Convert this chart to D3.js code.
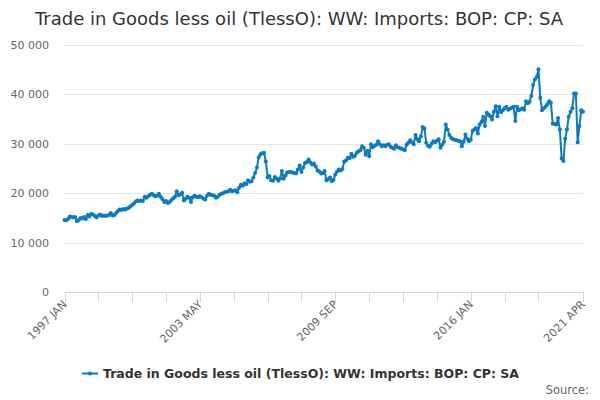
<!DOCTYPE html>
<head>
  <meta charset="utf-8">
  <title>Trade in Goods less oil</title>
  <style>
    body { margin: 0; background: #fff; }
    svg text { font-family: "DejaVu Sans", sans-serif; }
  </style>
</head>
<body>
<svg width="600" height="400"></svg>
<script src="https://d3js.org/d3.v7.min.js"></script>
<script>

var title = "Trade in Goods less oil (TlessO): WW: Imports: BOP: CP: SA";
var seriesName = "Trade in Goods less oil (TlessO): WW: Imports: BOP: CP: SA";

// monthly values, 1997 JAN .. 2021 APR (GBP million)
var values = [
  14600, 14500, 14800, 15300, 15200, 15100, 15200, 14300, 14600, 15000, 14900, 15200, // 1997
  14800, 15600, 15300, 15800, 15700, 15400, 15100, 15500, 15700, 15400, 15500, 15400, // 1998
  15500, 15600, 16000, 15500, 15600, 16000, 16400, 16700, 16600, 16800, 16700, 16900, // 1999
  17000, 17300, 17600, 17900, 18300, 18500, 18400, 18500, 18400, 19300, 19100, 19400, // 2000
  19700, 19900, 19600, 19400, 19500, 19900, 19300, 18800, 18200, 18400, 18000, 18200, // 2001
  18600, 19000, 19300, 20400, 19600, 19800, 20100, 18500, 18900, 19300, 19100, 18200, // 2002
  19200, 19500, 19300, 19200, 19400, 19200, 18900, 18700, 19500, 19900, 19700, 19600, // 2003
  19500, 19100, 19300, 19700, 19900, 20000, 20200, 20300, 20400, 20700, 20400, 20500, // 2004
  20600, 20200, 21100, 21700, 21500, 22000, 21800, 22600, 22300, 22400, 23200, 24100, // 2005
  25200, 27300, 27900, 28100, 28200, 26400, 23200, 23500, 22600, 22500, 23300, 23000, // 2006
  22500, 23000, 24500, 22900, 23600, 24200, 24300, 24300, 24200, 24100, 24000, 24800, // 2007
  25600, 24300, 25200, 26100, 26300, 26800, 26200, 25800, 26000, 25400, 24600, 24400, // 2008
  24000, 24100, 24500, 22600, 22800, 23200, 22400, 22700, 23800, 24400, 24800, 24600, // 2009
  24900, 26400, 26600, 27200, 27100, 28000, 27400, 27600, 28200, 28500, 28700, 29500, // 2010
  29200, 27800, 28600, 27500, 29900, 29300, 29600, 29800, 30500, 29900, 29500, 29700, // 2011
  29500, 29800, 29900, 29400, 29200, 29000, 29700, 29300, 29200, 29000, 28900, 28700, // 2012
  29800, 30200, 30700, 30300, 29900, 31800, 30900, 30500, 31500, 33400, 33100, 30200, // 2013
  29600, 29400, 30000, 30500, 30300, 30600, 30900, 29200, 29800, 30400, 33900, 32900, // 2014
  31800, 31200, 30900, 30800, 30700, 30600, 30500, 29500, 30400, 31900, 31000, 30500, // 2015
  30800, 32600, 32900, 33200, 32100, 33900, 34400, 35500, 33600, 36300, 35900, 35600, // 2016
  34900, 36500, 37600, 35600, 37500, 36400, 36800, 37200, 37500, 36900, 37100, 37300, // 2017
  37500, 34600, 37500, 36800, 37000, 37200, 36900, 38600, 38200, 38500, 39700, 41900, // 2018
  43000, 43500, 45100, 39300, 36800, 37200, 37500, 38000, 38600, 38300, 34100, 34000, // 2019
  33900, 35200, 32900, 27000, 26500, 31000, 32900, 35500, 36500, 37200, 40200, 40200, // 2020
  30300, 33600, 36800, 36500                                                          // 2021
];

var yTicks = [0, 10000, 20000, 30000, 40000, 50000];
var labelIndex = [0, 76, 152, 228, 291];
var labelText = ["1997 JAN", "2003 MAY", "2009 SEP", "2016 JAN", "2021 APR"];
var tickIndex = d3.range(0, 267, 19).concat([291]);

var colour = "#0a7bc0";

var svg = d3.select("svg");

var x = d3.scaleLinear().domain([0, values.length - 1]).range([64.5, 583]);
var y = d3.scaleLinear().domain([0, 50000]).range([292, 45]);

var fmt = function(d) { return d3.format(",")(d).replace(/,/g, " "); };

// title
svg.append("text")
    .attr("x", 299).attr("y", 25)
    .attr("text-anchor", "middle")
    .attr("font-size", 18)
    .attr("fill", "#333")
    .text(title);

// grid lines + y labels
var yAxis = svg.append("g");
yAxis.selectAll("line").data(yTicks.slice(1)).enter().append("line")
    .attr("x1", 64.5).attr("x2", 583)
    .attr("y1", function(d) { return Math.round(y(d)) + 0.5; })
    .attr("y2", function(d) { return Math.round(y(d)) + 0.5; })
    .attr("stroke", "#e6e6e6");
yAxis.selectAll("text").data(yTicks).enter().append("text")
    .attr("x", 49)
    .attr("y", function(d) { return y(d) + 4; })
    .attr("text-anchor", "end")
    .attr("font-size", 11)
    .attr("fill", "#666")
    .text(fmt);

// x axis
var xAxis = svg.append("g");
xAxis.append("line")
    .attr("x1", 64.5).attr("x2", 583)
    .attr("y1", 292.5).attr("y2", 292.5)
    .attr("stroke", "#ccd6eb");
xAxis.selectAll("line.tick").data(tickIndex).enter().append("line")
    .attr("class", "tick")
    .attr("x1", function(d) { return Math.round(x(d)) + 0.5; })
    .attr("x2", function(d) { return Math.round(x(d)) + 0.5; })
    .attr("y1", 292).attr("y2", 302)
    .attr("stroke", "#ccd6eb");
xAxis.selectAll("text").data(labelIndex).enter().append("text")
    .attr("transform", function(d) { return "translate(" + (x(d) + 3) + ",305) rotate(-45)"; })
    .attr("text-anchor", "end")
    .attr("font-size", 11)
    .attr("fill", "#666")
    .text(function(d, i) { return labelText[i]; });

// series
var line = d3.line()
    .x(function(d, i) { return x(i); })
    .y(function(d) { return y(d); });

svg.append("path")
    .datum(values)
    .attr("d", line)
    .attr("fill", "none")
    .attr("stroke", colour)
    .attr("stroke-width", 2)
    .attr("stroke-linejoin", "round");

svg.append("g").selectAll("circle").data(values).enter().append("circle")
    .attr("cx", function(d, i) { return x(i); })
    .attr("cy", function(d) { return y(d); })
    .attr("r", 2)
    .attr("fill", colour);

// legend
var legend = svg.append("g");
legend.append("line")
    .attr("x1", 82).attr("x2", 98)
    .attr("y1", 373.5).attr("y2", 373.5)
    .attr("stroke", colour).attr("stroke-width", 2);
legend.append("circle")
    .attr("cx", 90).attr("cy", 373.5).attr("r", 2)
    .attr("fill", colour);
legend.append("text")
    .attr("x", 103).attr("y", 378)
    .attr("font-size", 12.5)
    .attr("font-weight", "bold")
    .attr("fill", "#333")
    .text(seriesName);

// credits
svg.append("text")
    .attr("x", 589).attr("y", 394)
    .attr("text-anchor", "end")
    .attr("font-size", 11.5)
    .attr("fill", "#666")
    .text("Source:");

</script>
</body>
